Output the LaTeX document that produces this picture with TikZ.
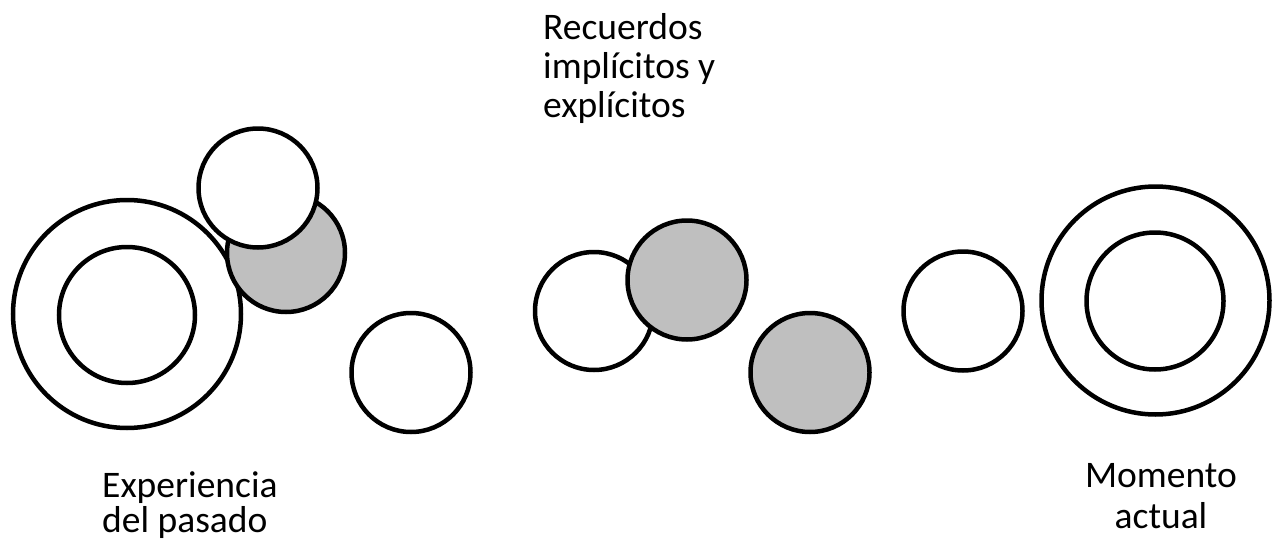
\documentclass[tikz,border=0pt]{standalone}
\usepackage{fontspec}
\setmainfont{Carlito}
\definecolor{shade}{RGB}{191,191,191}
\begin{document}
\begin{tikzpicture}[x=1pt,y=-1pt,
  ring/.style={draw=black,line width=4.5pt,fill=white},
  dark/.style={draw=black,line width=4.5pt,fill=shade},
  lbl/.style={inner sep=0pt}]
\useasboundingbox (0,0) rectangle (1272,546);
% left group
\draw[ring] (127,314) circle (114);
\draw[ring] (127,315) circle (68);
\draw[dark] (286,253) circle (59);
\draw[ring] (258,188) circle (59.5);
\draw[ring] (411,372.5) circle (59.5);
% middle group
\draw[ring] (594,311) circle (59);
\draw[dark] (687,280) circle (59.5);
\draw[dark] (810,372.5) circle (59.5);
% right group
\draw[ring] (963,311) circle (59.5);
\draw[ring] (1155.5,300.5) circle (114);
\draw[ring] (1155,301) circle (68.5);
% labels
\node[lbl,anchor=base west,align=left,font=\fontsize{37.5}{39}\selectfont] (rec) at (543,117) {Recuerdos\\impl\'icitos y\\expl\'icitos};
\node[lbl,anchor=base west,align=left,font=\fontsize{37.5}{35}\selectfont] (exp) at (102,532) {Experiencia\\del pasado};
\node[lbl,anchor=base,align=center,font=\fontsize{37.5}{41}\selectfont] (mom) at (1161,528) {Momento\\actual};
\end{tikzpicture}
\end{document}
